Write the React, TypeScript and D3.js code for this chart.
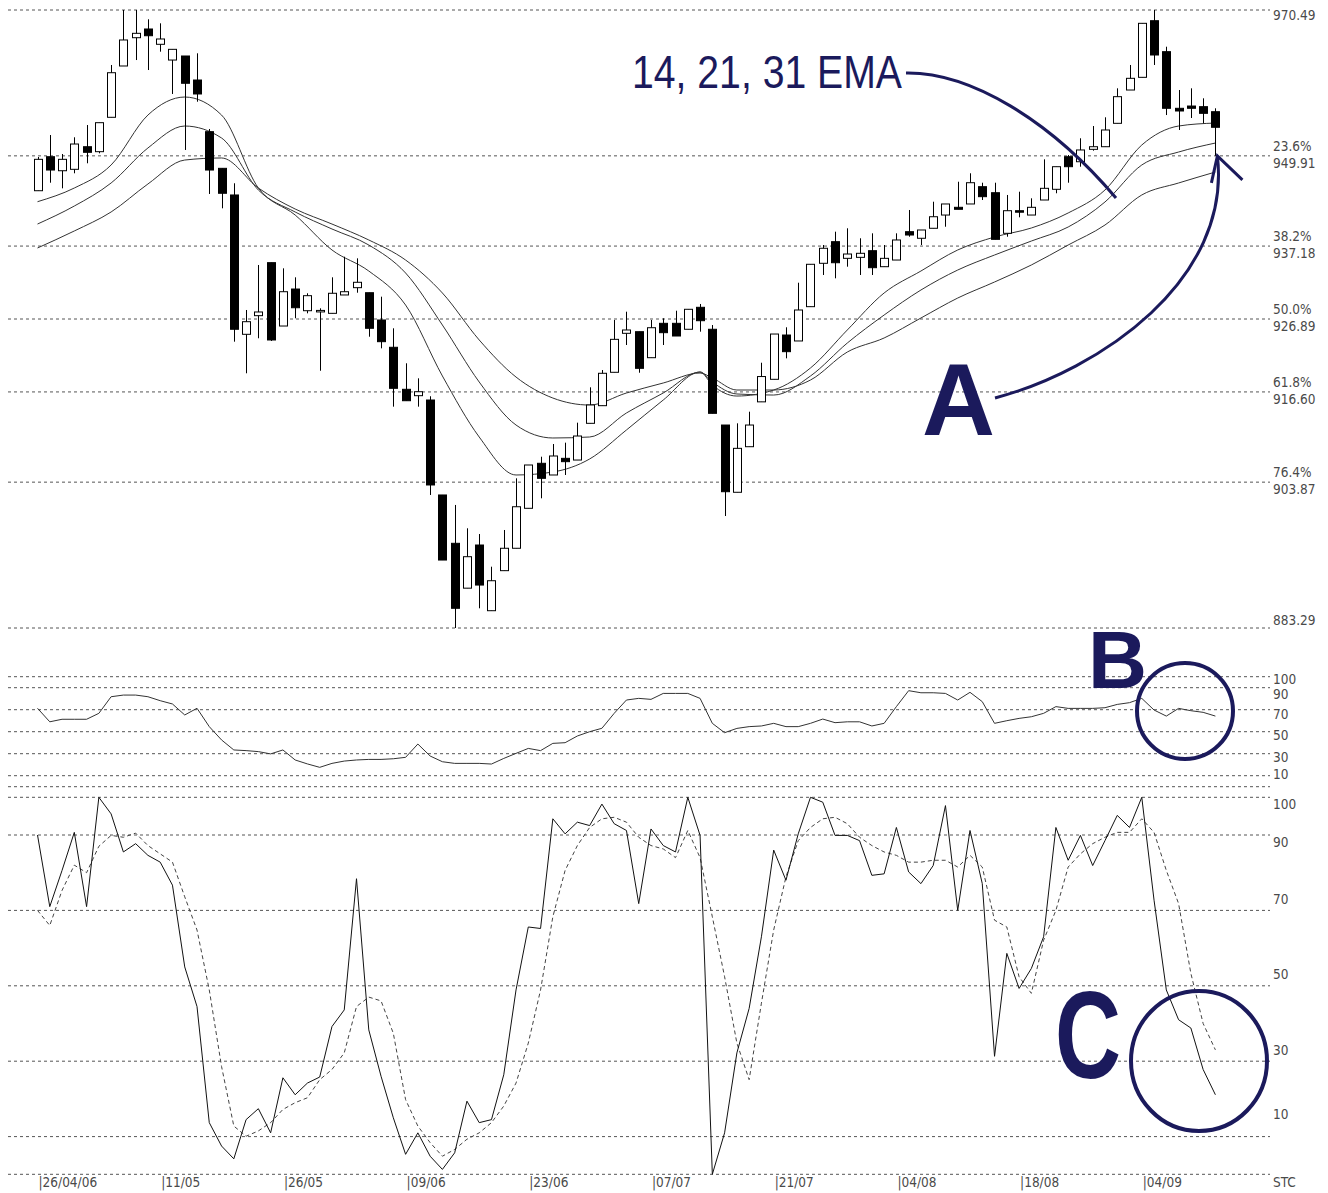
import * as d3 from "d3";

// ---- price candles ----
const priceOpen = [
  944.99, 949.79, 947.81, 948.01, 951.2, 950.5, 955.35, 962.59, 966.58, 967.81,
  965.65, 963.43, 964.0, 960.61, 953.32, 948.15, 944.39, 924.73, 927.36, 934.84,
  925.9, 931.12, 928.06, 928.06, 927.69, 930.28, 931.31, 930.6, 926.75, 922.9,
  916.97, 916.07, 915.46, 902.06, 895.24, 888.91, 895.0, 885.73, 891.38, 894.54,
  900.18, 906.53, 904.88, 907.23, 906.99, 912.17, 914.66, 919.37, 924.87, 925.1,
  921.43, 926.28, 926.28, 925.44, 928.54, 925.44, 911.93, 902.44, 908.87, 915.2,
  918.38, 924.63, 923.79, 928.63, 934.75, 937.8, 935.45, 935.59, 936.53, 934.27,
  935.21, 939.21, 938.28, 939.69, 941.56, 942.65, 943.12, 945.56, 944.71, 938.98,
  942.17, 941.56, 943.68, 945.19, 949.79, 949.08, 950.83, 951.2, 954.5, 959.2,
  960.99, 968.98, 964.61, 956.62, 956.94, 956.85, 956.14,
];
const priceHigh = [
  949.75, 952.85, 950.17, 952.53, 954.26, 954.59, 962.73, 970.49, 970.49, 969.18,
  968.61, 964.94, 964.0, 964.38, 953.7, 948.15, 946.04, 928.16, 934.51, 934.84,
  934.04, 932.77, 930.52, 928.4, 932.77, 935.68, 935.45, 930.6, 930.04, 925.58,
  920.64, 918.52, 915.99, 902.06, 900.65, 897.36, 896.55, 891.94, 897.12, 904.41,
  906.29, 907.46, 909.25, 909.44, 912.26, 917.25, 919.69, 926.75, 927.92, 925.1,
  926.75, 926.99, 928.06, 928.26, 929.01, 926.04, 911.93, 912.17, 913.81, 920.72,
  924.77, 925.72, 932.01, 934.61, 937.33, 939.21, 939.69, 938.28, 938.98, 937.33,
  938.98, 942.27, 939.45, 943.44, 943.12, 946.26, 947.45, 946.12, 946.12, 944.39,
  944.85, 943.92, 949.42, 948.38, 950.03, 952.39, 954.12, 955.35, 959.44, 962.73,
  968.61, 970.49, 965.31, 959.2, 959.44, 958.03, 956.62,
];
const priceLow = [
  944.95, 946.12, 945.33, 947.45, 948.86, 950.27, 955.35, 962.59, 963.43, 962.02,
  964.61, 958.64, 950.74, 957.55, 944.53, 942.51, 923.69, 919.23, 924.17, 923.79,
  925.9, 926.99, 927.69, 919.59, 927.69, 930.28, 930.6, 924.39, 922.75, 914.52,
  915.36, 914.52, 902.06, 892.88, 883.29, 888.91, 886.07, 885.73, 891.38, 894.54,
  900.18, 901.59, 904.88, 904.88, 906.99, 912.17, 914.66, 919.37, 923.22, 919.31,
  921.43, 923.22, 924.49, 925.44, 925.1, 913.58, 899.09, 902.44, 908.87, 915.2,
  918.38, 921.34, 923.79, 928.63, 933.1, 932.63, 934.27, 933.1, 933.1, 934.27,
  935.21, 938.5, 937.33, 939.69, 939.91, 942.37, 943.12, 943.68, 938.13, 938.5,
  941.24, 941.56, 943.68, 944.63, 946.12, 948.38, 950.64, 951.2, 954.5, 959.2,
  960.99, 962.73, 955.67, 953.56, 955.25, 954.5, 949.91,
];
const priceClose = [
  949.42, 947.91, 949.42, 951.58, 950.41, 954.59, 961.64, 966.26, 967.2, 966.86,
  966.4, 964.94, 960.15, 958.64, 947.91, 944.63, 925.44, 926.51, 927.88, 923.93,
  930.74, 928.48, 930.18, 928.1, 930.52, 930.74, 932.07, 925.58, 923.69, 917.11,
  915.36, 916.63, 903.47, 892.88, 886.07, 893.35, 889.35, 889.96, 894.54, 900.4,
  906.29, 904.41, 907.56, 906.76, 910.38, 914.76, 919.23, 924.02, 925.34, 919.93,
  925.66, 924.96, 924.49, 928.26, 926.65, 913.58, 902.52, 908.64, 911.93, 918.77,
  924.77, 922.28, 928.16, 934.61, 936.87, 934.83, 936.06, 936.16, 934.13, 935.45,
  938.04, 938.74, 939.45, 941.32, 943.12, 942.37, 946.12, 944.15, 938.13, 942.17,
  942.03, 942.65, 945.33, 948.38, 948.38, 950.74, 951.2, 953.56, 958.26, 960.85,
  968.61, 964.14, 956.62, 956.24, 956.62, 955.91, 953.94,
];

// ---- moving averages, read at every few bars ----
const emaIndex = [
  0, 3, 6, 9, 12, 15, 18, 21, 24, 27, 30, 33, 36, 39, 42, 45, 48, 51, 54, 55, 57,
  60, 63, 66, 69, 72, 75, 78, 81, 84, 87, 90, 93, 96,
];
const ema14 = [
  943.44, 945.37, 948.62, 955.67, 958.21, 955.67, 945.37, 941.56, 936.63, 933.66,
  928.86, 918.85, 910.24, 904.88, 905.3, 907.14, 911.23, 915.46, 919.41, 917.58,
  916.02, 916.87, 919.98, 925.34, 930.56, 933.66, 936.63, 938.46, 939.73, 941.85,
  945.09, 951.44, 954.12, 954.54,
];
const ema21 = [
  940.29, 942.83, 946.08, 951.02, 954.12, 952.43, 945.09, 941.99, 939.59, 937.33,
  933.38, 926.04, 918.0, 911.93, 910.1, 910.24, 913.63, 916.45, 919.41, 918.0,
  916.31, 916.16, 918.85, 923.5, 927.45, 930.98, 933.8, 935.92, 937.89, 939.87,
  943.4, 948.62, 950.45, 951.72,
];
const ema31 = [
  936.91, 939.31, 941.99, 945.94, 949.32, 949.61, 945.37, 942.41, 940.29, 938.04,
  935.21, 930.56, 923.93, 918.7, 915.74, 914.75, 916.45, 917.86, 919.27, 918.57,
  916.87, 916.87, 918.28, 922.23, 924.21, 927.03, 929.85, 932.11, 934.51, 937.33,
  940.15, 944.39, 946.08, 947.63,
];

// ---- indicators ----
const rsiValues = [
  71.3, 59, 61.3, 61.3, 61.3, 66.7, 81.8, 83.3, 83.3, 81.8, 78.2, 75.2, 65.2, 71.3,
  54.6, 42.5, 33.4, 32.8, 31.9, 29.8, 33.4, 24.3, 20.7, 17.6, 21.2, 23.3, 24.3,
  24.8, 24.8, 25.4, 26.7, 38.8, 27.9, 22.7, 21.2, 21.2, 21.2, 20.6, 25.7, 30.3,
  34.8, 32.8, 39.4, 40, 46.1, 50, 53.1, 66.7, 78.8, 80.3, 79.4, 84.8, 84.8, 84.8,
  80.3, 57.6, 49.1, 53, 54.6, 55.2, 57.6, 54.6, 54.6, 57.6, 61.5, 58.2, 59, 59,
  55.2, 57.6, 72.8, 87.3, 85.4, 85.4, 84.8, 78.8, 85.8, 77.3, 57.6, 60, 62.1, 63.6,
  66.7, 72.8, 71.2, 71.2, 71.2, 71.8, 74.8, 76.4, 80.3, 69.7, 64.2, 71.2, 69.1,
  67.6, 64.2,
];
const stochK = [
  90, 71, 80.6, 90.7, 71, 100, 95.6, 85.5, 87.7, 84.6, 82.8, 76.7, 55, 44.5, 13.7,
  7.5, 4.1, 14.5, 17.4, 11, 25.6, 21.1, 24.2, 25.8, 39.2, 43.6, 78.4, 38.3, 26, 15,
  5.3, 11, 4.8, 1.3, 5.7, 19.4, 13.7, 14.5, 26.4, 48.9, 65.6, 65.2, 94.3, 90.3,
  93.4, 92.5, 98.2, 93, 91.2, 71.8, 91.6, 87.2, 85.5, 100, 89.9, 0, 11, 32.2, 44,
  63, 86, 78, 90.3, 100, 98.7, 89.9, 89.9, 88.5, 79.3, 79.7, 92, 80.2, 77.1, 81.9,
  97.8, 70, 91.2, 77.1, 31.3, 58.6, 49.3, 54.6, 63, 92, 83.3, 89.9, 81.9, 88.5,
  95.2, 92, 100, 72.7, 48.9, 41, 38.8, 27.8, 21.1,
];
const stochD = [
  70, 66, 75.3, 82, 80, 87, 89.9, 89.4, 90.5, 87.2, 85, 82.8, 73.6, 64.8, 48.9,
  28.6, 12.8, 10.1, 11.5, 13.7, 17.2, 19, 20.3, 25.1, 27.8, 32.2, 44.5, 47, 46,
  37.4, 19.8, 12.8, 8.4, 4.8, 6.6, 9.3, 11, 13.7, 18.1, 24.2, 34.8, 48.9, 68.3,
  80.6, 87.2, 92, 94.3, 94.7, 93.4, 89.4, 87.2, 86.3, 84, 91.2, 84, 68.3, 52.4,
  34.8, 25.1, 45.4, 64.8, 78.9, 88.5, 92, 94.3, 94.7, 93, 89.4, 87.2, 85.5, 84.6,
  82.8, 82.8, 83.3, 83.3, 81.5, 84.6, 81.5, 67.4, 65.6, 52.4, 48, 62.1, 70, 81.5,
  85, 87.7, 89.4, 90.7, 90.7, 94.3, 90.7, 80.6, 71.8, 53.3, 40, 33,
];

// ---- axes ----
const fibLevels = [970.49, 949.91, 937.18, 926.89, 916.6, 903.87, 883.29];
const fibPct = ["", "23.6%", "38.2%", "50.0%", "61.8%", "76.4%", ""];
const rsiGrid = [100, 90, 70, 50, 30, 10, 0];
const rsiTicks = [100, 90, 70, 50, 30, 10];
const stcGrid = [100, 90, 70, 50, 30, 10, 0];
const stcTicks = [100, 90, 70, 50, 30, 10];
const dateIndex = [0, 10, 20, 30, 40, 50, 60, 70, 80, 90];
const dateLabels = [
  "26/04/06", "11/05", "26/05", "09/06", "23/06",
  "07/07", "21/07", "04/08", "18/08", "04/09",
];

const W = 1328;
const H = 1193;
const GRID_L = 8;
const GRID_R = 1270;
const LABEL_X = 1273;
const NAVY = "#1b1a5c";
const LABEL_SIZE = 13.5;
const labelFont = "'DejaVu Sans Condensed', 'Liberation Sans Narrow', 'Liberation Sans', sans-serif";
// label offsets relative to their gridline (the software nudges them)
const rsiLabelDy = [3, 7, 5, 4, 4, -1];
const stcLabelDy = [8, 8, -10, -11, -10, -22];

export default function App() {
  const n = priceClose.length;
  const x = d3.scaleLinear().domain([0, n - 1]).range([37.5, 1215.4]);
  const yP = d3.scaleLinear().domain([883.29, 970.49]).range([628, 10]);
  const yR = d3.scaleLinear().domain([0, 100]).range([786.7, 676.7]);
  const yS = d3.scaleLinear().domain([0, 100]).range([1174.3, 797.3]);

  const emaLine = (vals: number[]) =>
    d3
      .line<number>()
      .x((_, k) => x(emaIndex[k]))
      .y((v) => yP(v))
      .curve(d3.curveMonotoneX)(vals) || "";

  const rsiPath = d3.line<number>().x((_, i) => x(i)).y((v) => yR(v))(rsiValues) || "";
  const kPath = d3.line<number>().x((_, i) => x(i)).y((v) => yS(v))(stochK) || "";
  const dPath = d3.line<number>().x((_, i) => x(i)).y((v) => yS(v))(stochD) || "";

  const bodyW = 8;

  // annotation anchors
  const tipX = x(n - 1) + 2;
  const tipY = yP(fibLevels[1]);

  const lbl = (key: string, tx: number, ty: number, s: string) => (
    <text
      key={key}
      x={tx}
      y={ty}
      dominantBaseline="middle"
      fontSize={LABEL_SIZE}
      fill="#4a4a4a"
      fontFamily={labelFont}
    >
      {s}
    </text>
  );

  return (
    <div style={{ position: "absolute", left: 0, top: 0, background: "#fff" }}>
      <svg width={W} height={H} style={{ display: "block", background: "#fff" }}>
        {/* price gridlines + fib labels */}
        {fibLevels.map((lv, k) => {
          const y = yP(lv);
          const first = k === 0;
          const last = k === fibLevels.length - 1;
          return (
            <g key={"fib" + k}>
              <line x1={GRID_L} x2={GRID_R} y1={y} y2={y} stroke="#555" strokeDasharray="3 3" />
              {fibPct[k] ? (
                <>
                  {lbl("p" + k, LABEL_X, y - 9, fibPct[k])}
                  {lbl("v" + k, LABEL_X, y + 8, lv.toFixed(2))}
                </>
              ) : (
                lbl("v" + k, LABEL_X, first ? y + 6 : last ? y - 7 : y, lv.toFixed(2))
              )}
            </g>
          );
        })}

        {/* rsi gridlines */}
        {rsiGrid.map((v) => (
          <line key={"rg" + v} x1={GRID_L} x2={GRID_R} y1={yR(v)} y2={yR(v)} stroke="#555" strokeDasharray="3 3" />
        ))}
        {rsiTicks.map((v, k) => lbl("rt" + v, LABEL_X, yR(v) + rsiLabelDy[k], String(v)))}

        {/* stochastic gridlines */}
        {stcGrid.map((v) => (
          <line key={"sg" + v} x1={GRID_L} x2={GRID_R} y1={yS(v)} y2={yS(v)} stroke="#555" strokeDasharray="3 3" />
        ))}
        {stcTicks.map((v, k) => lbl("st" + v, LABEL_X, yS(v) + stcLabelDy[k], String(v)))}
        {lbl("stc", LABEL_X, 1183, "STC")}

        {/* date labels */}
        {dateIndex.map((di, k) => lbl("d" + k, x(di) + 1, 1183, "|" + dateLabels[k]))}

        {/* EMAs */}
        {[ema14, ema21, ema31].map((e, k) => (
          <path key={"ema" + k} d={emaLine(e)} fill="none" stroke="#333" strokeWidth={1} />
        ))}

        {/* candles */}
        {priceClose.map((c, i) => {
          const o = priceOpen[i];
          const up = c >= o;
          const top = yP(Math.max(o, c));
          const bot = yP(Math.min(o, c));
          const cx = Math.round(x(i)) + 0.5;
          return (
            <g key={"c" + i}>
              <line x1={cx} x2={cx} y1={yP(priceHigh[i])} y2={yP(priceLow[i])} stroke="#000" strokeWidth={1} />
              <rect
                x={cx - bodyW / 2}
                y={top}
                width={bodyW}
                height={Math.max(bot - top, 1.5)}
                fill={up ? "#fff" : "#000"}
                stroke="#000"
                strokeWidth={1}
              />
            </g>
          );
        })}

        {/* RSI */}
        <path d={rsiPath} fill="none" stroke="#333" strokeWidth={1} />

        {/* stochastic */}
        <path d={dPath} fill="none" stroke="#444" strokeWidth={1} strokeDasharray="4 3" />
        <path d={kPath} fill="none" stroke="#111" strokeWidth={1} />

        {/* annotations */}
        <text
          x={632}
          y={88}
          fontSize={46}
          fill={NAVY}
          fontFamily="'Liberation Sans', Arial, sans-serif"
          textLength={270}
          lengthAdjust="spacingAndGlyphs"
        >
          14, 21, 31 EMA
        </text>
        <path d="M906,73 C970,72 1050,120 1116,198" fill="none" stroke={NAVY} strokeWidth={3} />

        <text
          x={922}
          y={435}
          fontSize={102}
          fontWeight="bold"
          fill={NAVY}
          fontFamily="'Liberation Sans', Arial, sans-serif"
          textLength={73}
          lengthAdjust="spacingAndGlyphs"
        >
          A
        </text>
        <path
          d={`M995,398 C1100,370 1232,280 ${tipX},${tipY}`}
          fill="none"
          stroke={NAVY}
          strokeWidth={3}
        />
        <path
          d={`M${tipX - 6},${tipY + 27} L${tipX},${tipY} L${tipX + 25},${tipY + 24}`}
          fill="none"
          stroke={NAVY}
          strokeWidth={3}
        />

        <text
          x={1088}
          y={688}
          fontSize={81}
          fontWeight="bold"
          fill={NAVY}
          fontFamily="'Liberation Sans', Arial, sans-serif"
          textLength={59}
          lengthAdjust="spacingAndGlyphs"
        >
          B
        </text>
        <ellipse cx={1185} cy={711} rx={48} ry={48} fill="none" stroke={NAVY} strokeWidth={4} />

        <text
          x={1055}
          y={1078}
          fontSize={125}
          fontWeight="bold"
          fill={NAVY}
          fontFamily="'Liberation Sans', Arial, sans-serif"
          textLength={66}
          lengthAdjust="spacingAndGlyphs"
        >
          C
        </text>
        <ellipse cx={1199} cy={1061} rx={68} ry={70} fill="none" stroke={NAVY} strokeWidth={4} />
      </svg>
    </div>
  );
}
